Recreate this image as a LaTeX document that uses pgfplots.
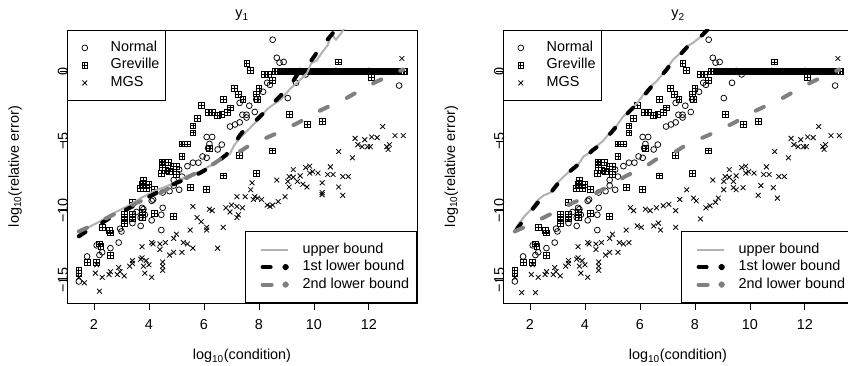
\documentclass[border=0pt]{standalone}
\usepackage{fontspec}
\setmainfont{Liberation Sans}
\usepackage{pgfplots}
\pgfplotsset{compat=1.18}
\usepackage{pgfplotstable}
\definecolor{ubgray}{gray}{0.70}
\definecolor{lbgray}{gray}{0.50}
\pgfdeclareplotmark{sqplus}{%
  \pgfpathrectangle{\pgfqpoint{-\pgfplotmarksize}{-\pgfplotmarksize}}{\pgfqpoint{2\pgfplotmarksize}{2\pgfplotmarksize}}%
  \pgfpathmoveto{\pgfqpoint{-\pgfplotmarksize}{0pt}}\pgfpathlineto{\pgfqpoint{\pgfplotmarksize}{0pt}}%
  \pgfpathmoveto{\pgfqpoint{0pt}{-\pgfplotmarksize}}\pgfpathlineto{\pgfqpoint{0pt}{\pgfplotmarksize}}%
  \pgfusepathqstroke}

\pgfplotstableread{
x y
1.45 -15.1
1.75 -13.3
2.1 -12.5
2.2 -13.2
2.3 -13.0
2.6 -12.7
2.9 -12.3
2.95 -11.3
3.0 -11.5
3.4 -10.9
3.7 -11.1
3.7 -10.5
3.8 -9.9
3.85 -10.3
3.55 -10.1
3.75 -9.8
4.1 -10.7
4.45 -11.4
4.45 -10.3
4.5 -9.8
4.1 -9.3
4.15 -9.2
4.5 -8.7
4.75 -8.6
4.9 -8.2
5.1 -8.5
4.9 -7.8
5.2 -7.55
5.1 -7.05
5.4 -6.8
5.6 -6.55
5.8 -6.55
5.95 -6.1
6.1 -6.2
6.1 -4.7
6.3 -4.7
6.2 -5.2
6.15 -5.5
6.65 -5.25
6.5 -5.6
6.95 -3.95
7.13 -3.8
7.3 -3.65
7.55 -3.3
7.4 -3.1
7.55 -3.1
7.65 -2.45
7.85 -2.9
7.3 -2.25
7.9 -2.0
8.15 -1.45
8.3 -0.8
8.4 -0.95
8.5 2.3
8.65 1.0
8.75 0.65
8.9 0.7
9.05 -1.9
9.35 -0.8
9.7 -0.2
9.0 0.0
9.5 0.05
10.0 0.0
10.4 0.0
10.8 0.05
11.2 0.0
11.6 0.0
12.0 0.05
12.4 0.0
12.8 0.0
13.1 -1.0
}\normtab

\pgfplotstableread{
x y
1.45 -14.5
1.45 -14.3
1.75 -13.7
2.1 -13.7
2.2 -12.4
2.25 -12.6
2.6 -13.2
2.3 -11.2
2.55 -11.4
2.6 -11.6
3.1 -10.6
3.1 -10.9
3.4 -10.6
3.1 -10.3
3.4 -10.3
3.4 -9.4
3.75 -10.1
3.75 -10.5
3.7 -8.4
3.75 -8.1
3.8 -7.8
3.9 -8.4
4.0 -8.1
4.2 -8.5
4.2 -10.2
4.9 -10.4
4.47 -6.5
4.6 -6.5
4.5 -6.7
4.7 -6.55
4.5 -6.9
4.6 -7.1
4.9 -6.8
5.0 -6.8
4.45 -7.3
4.75 -7.2
5.0 -7.4
4.9 -7.0
5.2 -6.1
5.5 -8.3
6.1 -8.5
6.7 -7.5
7.9 -7.3
5.2 -5.2
5.3 -5.2
5.4 -5.2
5.6 -3.9
5.6 -4.4
5.75 -3.35
5.9 -2.4
6.15 -2.95
6.3 -2.95
6.5 -3.15
6.7 -2.0
6.65 -3.1
6.85 -2.95
6.95 -2.6
7.1 -1.2
7.24 -1.65
7.42 -2.0
7.56 0.58
7.7 0.07
7.9 -1.6
7.95 -2.0
8.0 -1.2
8.2 -0.2
8.35 -0.2
8.5 -0.6
6.2 -5.5
7.3 -6.0
8.5 -5.7
9.1 -3.1
9.75 -3.8
10.3 -3.6
10.9 0.7
12.1 -0.4
8.60 0.05
8.68 0.0
8.76 0.05
8.84 0.0
8.92 0.05
9.00 0.0
9.08 0.05
9.16 0.0
9.24 0.0
9.32 0.05
9.40 0.0
9.48 0.0
9.56 0.05
9.64 0.0
9.72 0.0
9.80 0.05
9.88 0.0
9.96 0.0
10.04 0.05
10.12 0.0
10.20 0.0
10.28 0.05
10.36 0.0
10.44 0.0
10.52 0.05
10.60 0.0
10.68 0.0
10.76 0.05
10.84 0.0
10.92 0.0
11.00 0.05
11.08 0.0
11.16 0.0
11.24 0.05
11.32 0.0
11.40 0.0
11.48 0.05
11.56 0.0
11.64 0.0
11.72 0.05
11.80 0.0
11.88 0.0
11.96 0.05
12.04 0.0
12.12 0.0
12.20 0.05
12.28 0.0
12.36 0.0
12.44 0.05
12.52 0.0
12.60 0.0
12.68 0.05
12.76 0.0
12.84 0.0
12.92 0.05
13.00 0.0
13.08 0.0
13.16 0.05
13.24 0.0
13.30 0.0
}\grevtab

\pgfplotstableread{
x y
1.45 -14.8
1.65 -15.2
2.05 -14.5
2.2 -15.8
2.3 -14.8
2.1 -13.9
2.55 -14.6
2.6 -14.4
2.85 -14.6
2.95 -14.4
2.9 -14.1
3.1 -14.7
3.3 -14.0
3.4 -13.8
3.4 -13.6
3.7 -13.5
3.75 -12.6
3.75 -13.4
3.8 -14.0
3.9 -13.6
3.85 -14.5
4.0 -13.9
4.1 -12.3
4.1 -14.8
4.15 -12.4
4.4 -12.4
4.4 -12.8
4.5 -13.7
4.5 -14.0
4.5 -14.3
4.6 -12.3
4.75 -13.2
4.9 -12.0
4.9 -13.0
5.0 -11.7
5.2 -13.0
5.25 -12.3
5.4 -12.4
5.5 -11.4
5.6 -12.7
5.6 -9.7
5.75 -10.5
5.9 -10.8
6.1 -11.2
6.1 -11.4
6.2 -9.9
6.3 -10.0
6.5 -12.7
6.7 -11.2
6.8 -9.8
6.95 -10.1
7.0 -9.6
7.2 -9.0
7.2 -10.5
7.2 -9.7
7.4 -9.8
7.25 -10.3
7.5 -9.0
7.7 -8.5
7.85 -9.0
7.95 -9.1
7.8 -9.2
8.1 -9.2
8.3 -9.6
8.4 -9.7
8.5 -9.6
8.7 -9.35
8.95 -9.0
9.1 -8.3
9.05 -7.9
9.25 -7.6
9.4 -7.9
9.5 -7.5
9.6 -8.1
9.75 -8.3
9.85 -7.3
9.95 -7.2
10.15 -7.3
10.3 -8.7
10.3 -8.0
10.5 -7.4
8.65 -7.8
9.25 -7.05
9.7 -6.9
9.85 -6.8
10.6 -6.85
10.7 -7.4
11.05 -7.55
11.25 -7.55
7.75 -8.0
9.1 -7.55
10.3 -8.85
11.05 -8.9
10.9 -8.3
10.9 -5.75
11.4 -6.2
11.5 -4.8
11.6 -5.25
11.75 -5.4
11.85 -4.9
11.95 -5.4
12.05 -5.4
12.1 -4.7
12.3 -4.75
12.5 -3.95
12.65 -5.4
12.75 -5.25
12.7 -5.6
12.95 -4.6
13.25 -4.6
13.2 0.95
}\mgstab

\pgfplotstableread{
x y
1.45 -14.8
1.7 -15.9
2.05 -14.6
2.2 -15.9
2.3 -14.8
2.1 -13.9
2.55 -14.6
2.6 -14.4
2.85 -14.6
2.95 -14.4
2.9 -14.1
3.1 -14.7
3.3 -14.0
3.4 -13.8
3.4 -13.6
3.7 -13.5
3.75 -12.6
3.75 -13.4
3.8 -14.0
3.9 -13.6
3.85 -14.5
4.0 -13.9
4.1 -12.3
4.1 -14.8
4.15 -12.4
4.4 -12.4
4.4 -12.8
4.5 -13.7
4.5 -14.0
4.5 -14.3
4.6 -12.3
4.75 -13.2
4.9 -12.0
4.9 -13.0
5.0 -11.7
5.2 -13.0
5.25 -12.3
5.4 -12.4
5.5 -11.4
5.6 -12.3
5.65 -9.8
5.77 -10.0
5.9 -11.1
6.05 -11.2
6.2 -9.9
6.37 -10.0
6.5 -11.1
6.6 -9.8
6.67 -10.9
6.75 -11.4
6.85 -9.65
7.05 -9.55
7.3 -10.0
7.3 -11.2
7.45 -9.2
7.95 -9.1
8.05 -9.3
8.2 -10.6
8.4 -9.8
8.55 -9.65
8.75 -9.4
8.85 -9.1
9.05 -8.5
9.4 -8.35
9.5 -8.5
9.75 -8.35
10.3 -8.9
10.4 -8.2
10.85 -8.35
11.0 -9.1
7.7 -8.5
8.65 -7.8
9.05 -7.9
9.25 -7.6
9.4 -7.9
9.5 -7.5
9.85 -7.3
9.95 -7.2
10.15 -7.3
10.5 -7.4
9.25 -7.05
9.7 -6.9
9.85 -6.8
10.6 -6.85
10.7 -7.4
11.05 -7.55
11.25 -7.55
9.1 -7.55
10.9 -5.75
11.4 -6.2
11.5 -4.8
11.6 -5.25
11.75 -5.4
11.85 -4.9
11.95 -5.4
12.05 -5.4
12.1 -4.7
12.3 -4.75
12.5 -3.95
12.65 -5.4
12.75 -5.25
12.7 -5.6
12.95 -4.6
13.25 -4.6
13.2 0.95
}\mgstabr

\pgfplotstableread{
x y
1.45 -11.6
1.8 -11.2
2.2 -10.8
2.6 -10.3
3.0 -9.9
3.3 -9.6
3.7 -9.1
4.0 -8.8
4.3 -8.5
4.7 -8.2
5.0 -7.9
5.4 -7.5
5.85 -7.2
6.2 -6.8
6.45 -6.6
6.7 -6.2
6.95 -5.9
7.1 -5.3
7.3 -4.8
7.5 -4.4
7.8 -3.8
8.0 -3.4
8.3 -2.7
8.5 -2.4
8.8 -2.0
8.95 -1.65
9.15 -1.2
9.3 -0.95
9.55 -0.5
9.75 -0.1
9.9 0.6
10.1 0.8
10.3 1.4
10.5 1.9
10.65 2.7
10.8 2.3
11.0 2.8
11.2 3.4
}\upA

\pgfplotstableread{
x y
1.45 -11.85
1.8 -11.4
2.2 -11.0
2.6 -10.5
3.0 -10.1
3.4 -9.7
3.8 -9.2
4.3 -8.7
4.7 -8.3
5.0 -8.0
5.4 -7.7
5.85 -7.3
6.2 -6.9
6.45 -6.55
6.8 -6.0
7.05 -5.4
7.3 -4.6
7.55 -4.0
7.8 -3.7
8.05 -3.2
8.3 -2.75
8.65 -2.0
9.0 -1.3
9.2 -0.8
9.4 -0.2
9.6 0.2
9.85 0.65
10.05 1.2
10.2 1.8
10.45 2.2
10.7 2.8
11.2 3.4
}\loA

\pgfplotstableread{
x y
1.45 -11.5
2.0 -11.0
2.6 -10.4
3.1 -9.9
3.6 -9.4
4.25 -8.9
4.9 -8.2
5.5 -7.5
6.15 -6.9
6.6 -6.3
7.3 -5.75
7.7 -5.25
8.4 -4.65
8.8 -4.3
9.5 -3.6
9.9 -3.1
10.65 -2.4
11.1 -2.0
11.85 -1.15
12.3 -0.7
13.0 -0.05
13.25 0.15
}\loB

\pgfplotstableread{
x y
1.5 -11.2
1.8 -10.4
2.0 -10.0
2.25 -9.3
2.5 -8.9
2.75 -8.7
2.95 -8.1
3.2 -7.6
3.5 -7.05
3.75 -6.7
3.95 -6.1
4.2 -5.8
4.4 -5.4
4.65 -5.0
4.9 -4.4
5.15 -3.9
5.4 -3.2
5.65 -2.8
5.9 -2.25
6.15 -1.6
6.4 -1.05
6.6 -0.7
6.75 -0.35
7.0 0.3
7.2 0.85
7.45 1.3
7.7 1.8
7.95 2.1
8.2 2.5
8.5 3.1
}\upB

\pgfplotstableread{
x y
1.5 -11.4
1.8 -10.6
2.05 -10.0
2.3 -9.4
2.55 -8.9
2.8 -8.6
3.0 -8.1
3.25 -7.6
3.5 -7.1
3.8 -6.6
4.0 -6.2
4.25 -5.7
4.45 -5.4
4.7 -4.9
4.95 -4.4
5.2 -3.8
5.45 -3.2
5.7 -2.7
5.95 -2.2
6.2 -1.6
6.45 -1.0
6.7 -0.5
6.95 0.1
7.2 0.75
7.5 1.3
7.75 1.85
8.0 2.2
8.25 2.6
8.55 3.2
}\loAr

\pgfplotsset{
  panel/.style={
    scale only axis, width=350pt, height=273pt,
    xmin=1.02, xmax=13.75, ymin=-16.65, ymax=3.0,
    axis line style={line width=0.8pt, black},
    xtick={2,4,6,8,10,12}, xticklabels={2,4,6,8,10,12},
    ytick={-15,-10,-5,0}, yticklabels={−15,−10,−5,0},
    tick align=outside, xtick pos=left, ytick pos=left,
    major tick length=7pt, tick style={line width=0.8pt, black},
    xticklabel style={anchor=base, yshift=-20pt},
    yticklabel style={rotate=90, anchor=base, yshift=-8pt},
    xlabel={log\textsubscript{10}(condition)},
    ylabel={log\textsubscript{10}(relative error)},
    xlabel style={at={(axis description cs:0.5,0)}, anchor=base, yshift=-57pt},
    ylabel style={at={(axis description cs:0,0.5)}, anchor=base, rotate=0, yshift=48pt},
    title style={at={(axis description cs:0.5,1)}, anchor=base, yshift=6pt},
    legend cell align=left,
    legend style={at={(0,1)}, anchor=north west, draw=black, line width=0.8pt, fill=white,
      inner xsep=6pt, inner ysep=10.5pt, row sep=3.5pt,
      nodes={inner sep=0pt, text height=10.5pt, text depth=3.5pt},
      /tikz/every odd column/.append style={column sep=23pt}},
    legend image code/.code={\path (-11pt,0pt); \draw[##1] plot coordinates {(0pt,0pt)};},
  },
  linespanel/.style={
    scale only axis, width=350pt, height=273pt,
    xmin=1.02, xmax=13.75, ymin=-16.65, ymax=3.0,
    hide axis,
    legend cell align=left,
    legend style={at={(1,0)}, anchor=south east, draw=black, line width=0.8pt, fill=white,
      inner xsep=7.5pt, inner ysep=11pt, row sep=3.5pt,
      nodes={inner sep=0pt, text height=10.5pt, text depth=3.5pt},
      /tikz/every odd column/.append style={column sep=13pt}},
  },
  normst/.style={only marks, mark=o, mark size=2.9pt, mark options={line width=0.75pt, black, solid}},
  grevst/.style={only marks, mark=sqplus, mark size=2.9pt, mark options={line width=0.75pt, black, solid}},
  mgsst/.style={only marks, mark=x, mark size=3.4pt, mark options={line width=0.8pt, black, solid}},
  ubst/.style={ubgray, line width=2pt, line join=round,
    legend image code/.code={\path (-5.5pt,0pt); \draw[ubgray, line width=2pt] (0pt,0pt) -- (27pt,0pt);}},
  l1st/.style={black, line width=4pt, line cap=round, line join=round, dash pattern=on 8pt off 19pt,
    legend image code/.code={\path (-5.5pt,0pt) (27pt,0pt); \draw[black, line width=4pt, line cap=round] (2pt,0pt) -- (13pt,0pt); \fill[black] (25pt,0pt) circle (1.2pt);}},
  l2st/.style={lbgray, line width=4pt, line cap=round, line join=round, dash pattern=on 9pt off 21pt,
    legend image code/.code={\path (-5.5pt,0pt) (27pt,0pt); \draw[lbgray, line width=4pt, line cap=round] (2pt,0pt) -- (13pt,0pt); \fill[lbgray] (25pt,0pt) circle (1.2pt);}},
}

\begin{document}
\fontsize{14.4}{17.3}\selectfont
\begin{tikzpicture}
\path[use as bounding box] (0pt,0pt) rectangle (848pt,366pt);
% left panel
\begin{axis}[panel, at={(67pt,63pt)}, anchor=south west, title={y\textsubscript{1}}]
\addplot[normst] table {\normtab};
\addplot[grevst] table {\grevtab};
\addplot[mgsst] table {\mgstab};
\legend{Normal,Greville,MGS}
\end{axis}
\begin{axis}[linespanel, at={(67pt,63pt)}, anchor=south west]
\addplot[ubst] table {\upA};
\addplot[l1st] table {\loA};
\addplot[l2st] table {\loB};
\legend{upper bound,1st lower bound,2nd lower bound}
\end{axis}
% right panel
\begin{axis}[panel, at={(503pt,63pt)}, anchor=south west, title={y\textsubscript{2}}]
\addplot[normst] table {\normtab};
\addplot[grevst] table {\grevtab};
\addplot[mgsst] table {\mgstabr};
\legend{Normal,Greville,MGS}
\end{axis}
\begin{axis}[linespanel, at={(503pt,63pt)}, anchor=south west]
\addplot[ubst] table {\upB};
\addplot[l1st] table {\loAr};
\addplot[l2st] table {\loB};
\legend{upper bound,1st lower bound,2nd lower bound}
\end{axis}
\end{tikzpicture}
\end{document}
